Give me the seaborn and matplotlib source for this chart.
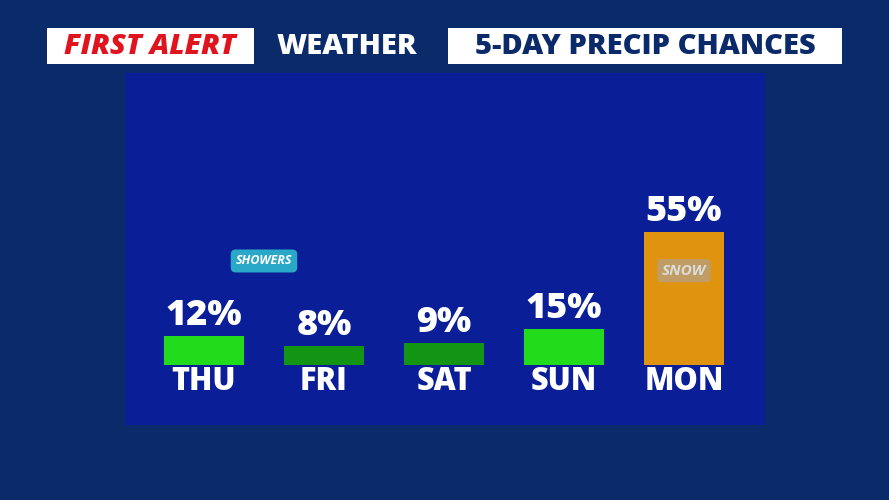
import matplotlib
matplotlib.use("Agg")
import matplotlib.pyplot as plt
import seaborn as sns
import pandas as pd

days = ["THU", "FRI", "SAT", "SUN", "MON"]
chances = [12, 8, 9, 15, 55]
bar_colors = ["#22dc1c", "#139412", "#139412", "#22dc1c", "#df930f"]
icons = {0: "SHOWERS", 4: "SNOW"}

sns.set_theme(style="white")
plt.rcParams['font.family'] = ['Open Sans', 'DejaVu Sans']

fig = plt.figure(figsize=(8.89, 5), dpi=100)
fig.patch.set_facecolor("#0b2a6a")

# panel
ax = fig.add_axes([125/889, 1-425/500, 640/889, 352/500])
ax.set_facecolor("#0a1e98")
df = pd.DataFrame({"day": days, "chance": chances})
sns.barplot(data=df, x="day", y="chance", hue="day", palette=bar_colors,
            width=0.667, legend=False, ax=ax, saturation=1, linewidth=0)
ax.set_xlim(-0.658, 4.675)
ax.set_ylim(-24.8, 120.7)
for s in ax.spines.values():
    s.set_visible(False)
ax.set_xticks([]); ax.set_yticks([])
ax.set_xlabel(""); ax.set_ylabel("")
for i, (d, c) in enumerate(zip(days, chances)):
    ax.text(i, c + 0.8, f"{c}%", ha="center", va="bottom", color="white",
            fontsize=26, fontweight="heavy")
    ax.text(i, -7, d, ha="center", va="center", color="white",
            fontsize=22, fontweight="heavy")
ax.text(0.5, 43, icons[0], ha="center", va="center", color="white", fontsize=9,
        fontweight="bold", fontstyle="italic",
        bbox=dict(boxstyle="round,pad=0.4", fc="#2aa8c8", ec="none"))
ax.text(4, 39, icons[4], ha="center", va="center", color="#dddddd", fontsize=11,
        fontweight="bold", fontstyle="italic",
        bbox=dict(boxstyle="round,pad=0.3", fc="#b8a07a", ec="none", alpha=0.8))

# header banner
def box(x0, x1, fc):
    fig.patches.append(plt.Rectangle((x0/889, 1-64/500), (x1-x0)/889, 36/500,
                                     transform=fig.transFigure, fc=fc, ec="none"))
box(47, 254, "white")
box(254, 440, "#0b2a6a")
box(448, 842, "white")
fig.text(150/889, 1-47/500, "FIRST ALERT", ha="center", va="center", color="#e0141e",
         fontsize=21, fontweight="heavy", fontstyle="italic")
fig.text(347/889, 1-47/500, "WEATHER", ha="center", va="center", color="white",
         fontsize=21, fontweight="heavy")
fig.text(645/889, 1-47/500, "5-DAY PRECIP CHANCES", ha="center", va="center",
         color="#0b2a6a", fontsize=21, fontweight="heavy")

fig.savefig("out.png", dpi=100, facecolor=fig.get_facecolor())
